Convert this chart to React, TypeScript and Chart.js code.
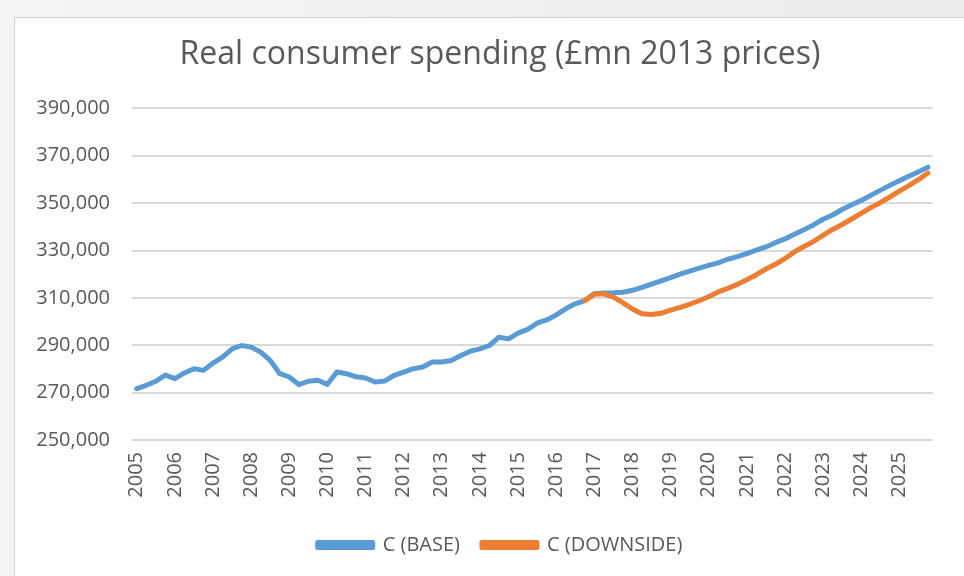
import React, { useEffect, useRef } from 'react';
import { Chart, registerables } from 'chart.js';

Chart.register(...registerables);

const years = ['2005','2006','2007','2008','2009','2010','2011','2012','2013','2014','2015','2016','2017','2018','2019','2020','2021','2022','2023','2024','2025'];
const quarterLabels = years.flatMap((y) => [y, '', '', '']);

const baseValues = [
  271700, 273100, 274800, 277400, 275900, 278300, 280100, 279400,
  282500, 285000, 288500, 289900, 289200, 287100, 283600, 278000,
  276600, 273400, 274800, 275200, 273500, 278700, 278000, 276700,
  276200, 274500, 274900, 277300, 278700, 280100, 280800, 282900,
  282900, 283600, 285700, 287500, 288500, 289900, 293400, 292700,
  295100, 296700, 299300, 300700, 302800, 305400, 307500, 308800,
  311800, 312100, 312200, 312400, 313200, 314400, 315800, 317200,
  318600, 320000, 321300, 322600, 323700, 324800, 326300, 327400,
  328700, 330200, 331500, 333300, 334900, 336900, 338800, 340800,
  343200, 345000, 347300, 349300, 351100, 353300, 355400, 357500,
  359500, 361400, 363200, 365200,
];

// Downside scenario starts at 2016 Q4 (index 47)
const downsideStartIndex = 47;
const downsideValuesFromStart = [
  308800, 311500, 311700, 310300, 308000, 305300, 303300, 303000,
  303500, 304800, 306000, 307300, 308800, 310500, 312500, 314000,
  315700, 317700, 319800, 322200, 324200, 326600, 329400, 331700,
  333800, 336400, 338900, 341000, 343300, 345700, 348100, 350200,
  352600, 355100, 357400, 359900, 362700,
];
const downsideValues = [...new Array(downsideStartIndex).fill(null), ...downsideValuesFromStart];

const yMin = 250000;
const yMax = 390000;
const yStep = 20000;

const TEXT = '#595959';
const FONT = "'Open Sans', 'DejaVu Sans', sans-serif";
const TICK_SIZE = 20;

const fmt = (v: number) => Number(v).toLocaleString('en-US');

export default function App() {
  const ref = useRef<HTMLCanvasElement | null>(null);

  useEffect(() => {
    if (!ref.current) return;
    const ctx = ref.current.getContext('2d')!;
    ctx.font = `${TICK_SIZE}px ${FONT}`;
    const widest = ctx.measureText(fmt(yMax)).width;
    const labelGap = 22;

    const chart = new Chart(ref.current, {
      type: 'line',
      data: {
        labels: quarterLabels,
        datasets: [
          {
            label: 'C (DOWNSIDE)',
            data: downsideValues,
            borderColor: '#ed7d31',
            backgroundColor: '#ed7d31',
            borderWidth: 5,
            pointRadius: 0,
            tension: 0,
            borderCapStyle: 'round',
            borderJoinStyle: 'round',
            spanGaps: false,
          },
          {
            label: 'C (BASE)',
            data: baseValues,
            borderColor: '#5b9bd5',
            backgroundColor: '#5b9bd5',
            borderWidth: 5,
            pointRadius: 0,
            tension: 0,
            borderCapStyle: 'round',
            borderJoinStyle: 'round',
          },
        ],
      },
      options: {
        animation: false,
        responsive: false,
        maintainAspectRatio: false,
        layout: { padding: { left: 50, right: 14, top: 0, bottom: 11 } },
        plugins: {
          title: {
            display: true,
            text: 'Real consumer spending (£mn 2013 prices)',
            color: TEXT,
            font: { family: FONT, size: 32, weight: 'normal' },
            padding: { top: 36, bottom: 34 },
          },
          legend: {
            display: true,
            position: 'bottom',
            reverse: true,
            labels: {
              color: TEXT,
              font: { family: FONT, size: 20 },
              boxWidth: 55,
              boxHeight: 5,
              padding: 22,
            },
          },
          tooltip: { enabled: false },
        },
        scales: {
          x: {
            type: 'category',
            offset: true,
            grid: { display: false, drawTicks: false },
            border: { display: false },
            ticks: {
              autoSkip: false,
              maxRotation: 90,
              minRotation: 90,
              color: TEXT,
              font: { family: FONT, size: TICK_SIZE },
              padding: 12,
            },
            afterFit: (scale: any) => {
              scale.height = 73;
            },
          },
          y: {
            min: yMin,
            max: yMax,
            grid: { color: '#d9d9d9', lineWidth: 2, drawTicks: false },
            border: { display: false },
            ticks: {
              stepSize: yStep,
              color: TEXT,
              font: { family: FONT, size: TICK_SIZE },
              mirror: true,
              crossAlign: 'far',
              padding: -(labelGap + widest),
              callback: (v: any) => fmt(v),
            },
            afterFit: (scale: any) => {
              scale.width = 82;
            },
          },
        },
      },
    });
    return () => chart.destroy();
  }, []);

  return (
    <div style={{ position: 'fixed', left: 0, top: 0, width: 964, height: 576, background: 'linear-gradient(to right, #f4f4f4, #ececec)', overflow: 'hidden' }}>
      <div style={{ position: 'absolute', left: 14, top: 17, width: 980, height: 600, background: '#ffffff', border: '1px solid #d0d0d0', boxSizing: 'border-box' }} />
      <canvas ref={ref} width={964} height={576} style={{ position: 'absolute', left: 0, top: 0, width: 964, height: 576 }} />
    </div>
  );
}
